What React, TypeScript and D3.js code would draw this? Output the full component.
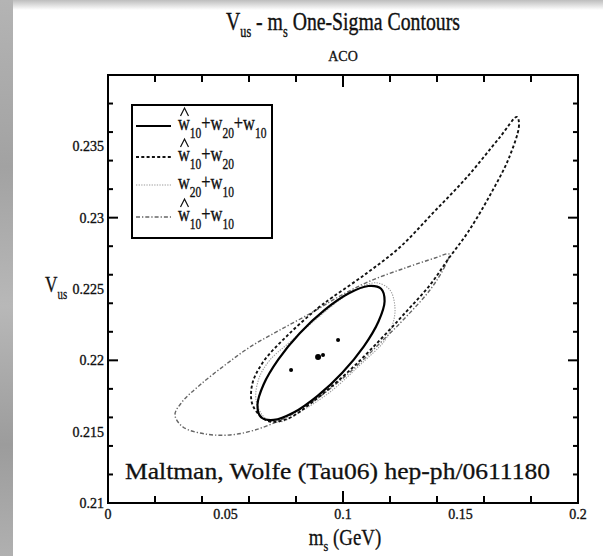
import React from 'react';
import * as d3 from 'd3';

// one-sigma contours, points as [m_s (GeV), Vus]
const contourFull = [
  [0.1162, 0.22502], [0.1177, 0.22414], [0.1151, 0.22272], [0.1088, 0.22096],
  [0.0997, 0.21913], [0.0892, 0.21751], [0.079, 0.21634], [0.0705, 0.21582],
  [0.0651, 0.21601], [0.0636, 0.21688], [0.0662, 0.21831], [0.0725, 0.22007],
  [0.0816, 0.2219], [0.0921, 0.22352], [0.1023, 0.22468], [0.1108, 0.22521],
];
const contourHatW20 = [
  [0.174, 0.23706], [0.1749, 0.23649], [0.1706, 0.23418], [0.1626, 0.23159],
  [0.1532, 0.22899], [0.1451, 0.22717], [0.137, 0.22528], [0.1264, 0.22332],
  [0.1157, 0.22142], [0.103, 0.21932], [0.0881, 0.21722], [0.0762, 0.21589],
  [0.0681, 0.21575], [0.0617, 0.2168], [0.0613, 0.21827], [0.066, 0.21988],
  [0.0766, 0.22178], [0.0894, 0.22367], [0.0957, 0.22444], [0.1102, 0.22612],
  [0.1243, 0.22794], [0.1383, 0.23033], [0.1528, 0.23285], [0.1668, 0.23565],
];
const contourW20W10 = [
  [0.1149, 0.22542], [0.12, 0.22493], [0.1221, 0.22374], [0.1213, 0.22262],
  [0.1179, 0.22142], [0.1072, 0.21967], [0.0945, 0.21778], [0.0817, 0.21638],
  [0.0732, 0.21568], [0.0668, 0.21596], [0.063, 0.21722], [0.0643, 0.21876],
  [0.0689, 0.22002], [0.0774, 0.22128], [0.0902, 0.22311], [0.1009, 0.22451],
  [0.1094, 0.22528],
];
const contourHatW10 = [
  [0.1451, 0.22745], [0.1434, 0.22661], [0.137, 0.22493], [0.1264, 0.22297],
  [0.1149, 0.22107], [0.103, 0.21918], [0.0881, 0.21722], [0.0753, 0.21596],
  [0.0626, 0.21512], [0.0519, 0.21477], [0.0413, 0.21484], [0.0319, 0.21533],
  [0.0285, 0.21617], [0.0315, 0.21708], [0.0391, 0.21827], [0.0498, 0.21967],
  [0.0604, 0.22093], [0.0732, 0.22213], [0.0872, 0.22339], [0.0987, 0.22451],
  [0.1115, 0.22556], [0.1264, 0.22647], [0.1391, 0.22717],
];

// central values
const bestFit = [0.0894, 0.22023];
const fitPoints = [
  [0.0915, 0.22038],
  [0.0979, 0.22143],
  [0.0779, 0.21933],
];

// legend labels: [base, subscript] pieces, hat on first w
const legendLabels = [
  [['w', '10'], ['+w', '20'], ['+w', '10']],
  [['w', '10'], ['+w', '20']],
  [['w', '20'], ['+w', '10']],
  [['w', '10'], ['+w', '10']],
];
const legendHat = [true, true, false, true];

const xTickValues = [0, 0.05, 0.1, 0.15, 0.2];
const xTickLabels = ['0', '0.05', '0.1', '0.15', '0.2'];
const yTickValues = [0.21, 0.215, 0.22, 0.225, 0.23, 0.235];
const yTickLabels = ['0.21', '0.215', '0.22', '0.225', '0.23', '0.235'];

const W = 603;
const H = 556;
const left = 108;
const right = 578;
const top = 75;
const bottom = 503;
const FONT = '"Liberation Serif", "Times New Roman", serif';

// line styles: solid, dashed, dotted, dash-dot
const styles = [
  { stroke: '#000', width: 2.2, dash: undefined },
  { stroke: '#111', width: 1.9, dash: '3,2.3' },
  { stroke: '#9a9a9a', width: 1.1, dash: '1.3,1.3' },
  { stroke: '#666', width: 1.4, dash: '4,2,1.3,2' },
];

export default function App() {
  const x = d3.scaleLinear().domain([0, 0.2]).range([left, right]);
  const y = d3.scaleLinear().domain([0.21, 0.24]).range([bottom, top]);
  const path = d3
    .line<number[]>()
    .x((d) => x(d[0]))
    .y((d) => y(d[1]))
    .curve(d3.curveCatmullRomClosed.alpha(0.5));

  const contours = [contourFull, contourHatW20, contourW20W10, contourHatW10];
  const drawOrder = [3, 2, 1, 0];

  // minor + major ticks
  const xTicks = x.ticks(8).filter((v) => v > 1e-9 && v < 0.2 - 1e-9);
  const yTicks = y.ticks(12).filter((v) => v > 0.21 + 1e-9 && v < 0.24 - 1e-9);
  const isMajorX = (v: number) => Math.abs(v / 0.05 - Math.round(v / 0.05)) < 1e-6;
  const isMajorY = (v: number) => Math.abs(v / 0.005 - Math.round(v / 0.005)) < 1e-6;

  const legendY = [126, 157, 185, 217];

  return (
    <svg
      width={W}
      height={H}
      style={{ position: 'absolute', left: 0, top: 0, background: '#fff' }}
      fontFamily={FONT}
    >
      <defs>
        <linearGradient id="leftStrip" x1="0" y1="0" x2="0" y2="1">
          <stop offset="0" stopColor="#b4b4b4" />
          <stop offset="0.3" stopColor="#a2a2a2" />
          <stop offset="0.55" stopColor="#b8b8b8" />
          <stop offset="0.8" stopColor="#9c9c9c" />
          <stop offset="1" stopColor="#b0b0b0" />
        </linearGradient>
        <linearGradient id="topStrip" x1="0" y1="0" x2="0" y2="1">
          <stop offset="0" stopColor="#bdbdbd" />
          <stop offset="1" stopColor="#ffffff" />
        </linearGradient>
      </defs>
      <rect x={0} y={0} width={W} height={10} fill="url(#topStrip)" />
      <rect x={0} y={0} width={13} height={H} fill="url(#leftStrip)" />

      {/* title */}
      <g transform="translate(343,30) scale(0.76,1)">
        <text textAnchor="middle" fontSize={26} fill="#111" stroke="#111" strokeWidth={0.4}>
          V<tspan fontSize={16} dy={7}>us</tspan>
          <tspan dy={-7}> - m</tspan>
          <tspan fontSize={16} dy={7}>s</tspan>
          <tspan dy={-7}> One-Sigma Contours</tspan>
        </text>
      </g>
      <text x={343} y={61} textAnchor="middle" fontSize={14} fill="#111" stroke="#111" strokeWidth={0.3}>
        ACO
      </text>

      {/* contours */}
      {drawOrder.map((i) => (
        <path
          key={i}
          d={path(contours[i]) || ''}
          fill="none"
          stroke={styles[i].stroke}
          strokeWidth={styles[i].width}
          strokeDasharray={styles[i].dash}
        />
      ))}
      {fitPoints.map((p, i) => (
        <circle key={i} cx={x(p[0])} cy={y(p[1])} r={2} fill="#000" />
      ))}
      <circle cx={x(bestFit[0])} cy={y(bestFit[1])} r={3} fill="#000" />

      {/* frame + ticks */}
      <rect
        x={left}
        y={top}
        width={right - left}
        height={bottom - top}
        fill="none"
        stroke="#000"
        strokeWidth={2}
      />
      {xTicks.map((v, i) => {
        const len = isMajorX(v) ? 12 : 7;
        return (
          <g key={'x' + i} stroke="#000" strokeWidth={2}>
            <line x1={x(v)} x2={x(v)} y1={bottom} y2={bottom - len} />
            <line x1={x(v)} x2={x(v)} y1={top} y2={top + len} />
          </g>
        );
      })}
      {yTicks.map((v, i) => {
        const len = isMajorY(v) ? 10 : 5;
        return (
          <g key={'y' + i} stroke="#000" strokeWidth={2}>
            <line x1={left} x2={left + len} y1={y(v)} y2={y(v)} />
            <line x1={right} x2={right - len} y1={y(v)} y2={y(v)} />
          </g>
        );
      })}
      <g fill="#111" stroke="#111" strokeWidth={0.35} fontSize={14}>
        {xTickValues.map((v, i) => (
          <text key={'xl' + i} x={x(v)} y={519} textAnchor="middle">
            {xTickLabels[i]}
          </text>
        ))}
        {yTickValues.map((v, i) => (
          <text key={'yl' + i} x={104} y={y(v) + 5} textAnchor="end">
            {yTickLabels[i]}
          </text>
        ))}
      </g>

      {/* axis titles */}
      <g transform="translate(345,545) scale(0.82,1)">
        <text textAnchor="middle" fontSize={23} fill="#111" stroke="#111" strokeWidth={0.3}>
          m<tspan fontSize={15} dy={6}>s</tspan>
          <tspan dy={-6}> (GeV)</tspan>
        </text>
      </g>
      <g transform="translate(45,292) scale(0.72,1)">
        <text fontSize={24} fill="#111" stroke="#111" strokeWidth={0.3}>
          V<tspan fontSize={15} dy={7}>us</tspan>
        </text>
      </g>

      {/* legend */}
      <rect x={132} y={105} width={140} height={133} fill="#fff" stroke="#000" strokeWidth={2} />
      {legendLabels.map((parts, i) => {
        const ly = legendY[i];
        return (
          <g key={'lg' + i}>
            <line
              x1={136}
              x2={171}
              y1={ly}
              y2={ly}
              stroke={styles[i].stroke}
              strokeWidth={styles[i].width}
              strokeDasharray={styles[i].dash}
            />
            {legendHat[i] && (
              <path
                d={`M${180.5},${ly - 10} L${184.5},${ly - 18} L${188.5},${ly - 10}`}
                fill="none"
                stroke="#111"
                strokeWidth={1.2}
              />
            )}
            <g transform={`translate(178,${ly + 4}) scale(0.82,1)`}>
              <text x={0} y={0} fontSize={20} fill="#111" stroke="#111" strokeWidth={0.35}>
                {parts.map((p, j) => (
                  <React.Fragment key={j}>
                    <tspan dy={j === 0 ? 0 : -8}>{p[0]}</tspan>
                    <tspan fontSize={14} dy={8}>
                      {p[1]}
                    </tspan>
                  </React.Fragment>
                ))}
              </text>
            </g>
          </g>
        );
      })}

      {/* citation */}
      <text
        x={125}
        y={479}
        fontSize={24}
        fill="#111"
        stroke="#111"
        strokeWidth={0.3}
        textLength={425}
        lengthAdjust="spacingAndGlyphs"
      >
        Maltman, Wolfe (Tau06) hep-ph/0611180
      </text>
    </svg>
  );
}
